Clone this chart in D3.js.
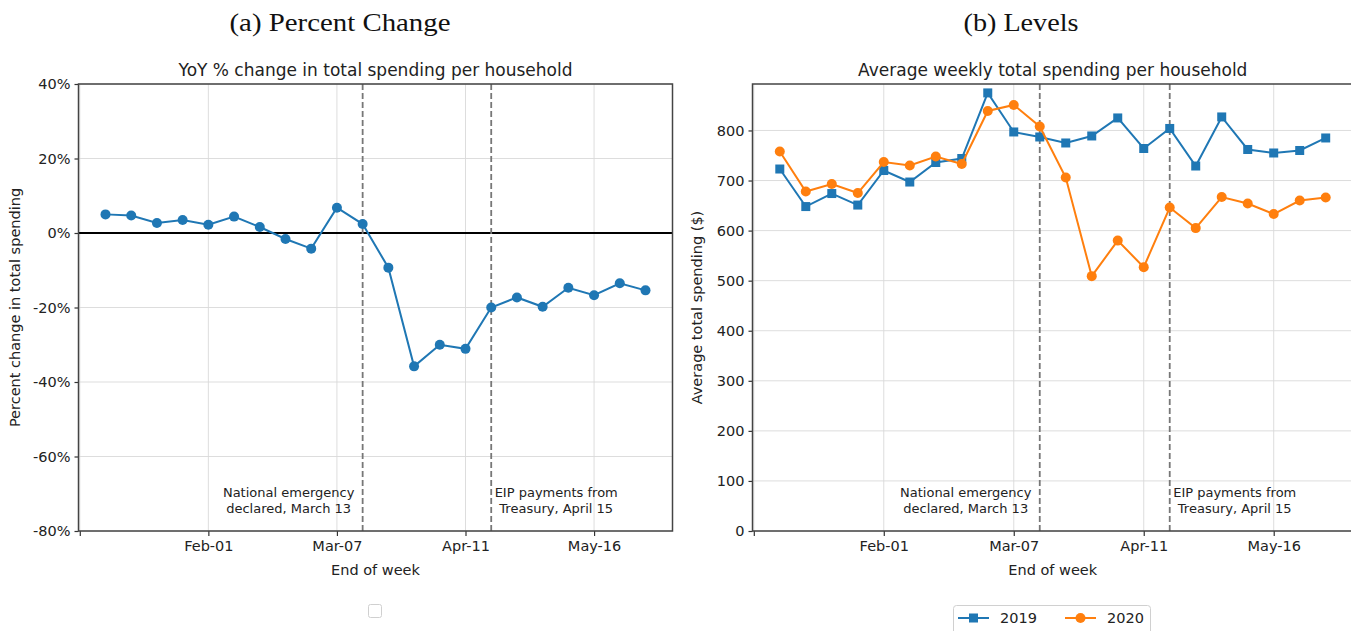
<!DOCTYPE html>
<html><head><meta charset="utf-8">
<script src="https://cdn.jsdelivr.net/npm/d3@7"></script>
<style>
html,body{margin:0;padding:0;background:#fff;overflow:hidden}
text{font-family:"DejaVu Sans",sans-serif;fill:#222}
</style></head>
<body>
<svg id="chart" width="1351" height="631"></svg>
<script>
// ---- data ----
const weekEnds = ["2020-01-04","2020-01-11","2020-01-18","2020-01-25","2020-02-01","2020-02-08","2020-02-15","2020-02-22","2020-02-29","2020-03-07","2020-03-14","2020-03-21","2020-03-28","2020-04-04","2020-04-11","2020-04-18","2020-04-25","2020-05-02","2020-05-09","2020-05-16","2020-05-23","2020-05-30"];
const yoyPct = [5.0, 4.7, 2.7, 3.5, 2.2, 4.4, 1.6, -1.6, -4.2, 6.8, 2.4, -9.3, -35.8, -30.0, -31.1, -20.0, -17.3, -19.8, -14.7, -16.7, -13.5, -15.4];
const spend2019 = [723, 648, 674, 651, 720, 697, 736, 744, 875, 797, 787, 775, 789, 825, 764, 804, 729, 827, 762, 755, 760, 785];
const spend2020 = [758, 678, 693, 675, 737, 730, 748, 733, 839, 851, 808, 706, 509, 580, 527, 646, 605, 667, 654, 633, 660, 666];
const xTickDates = ["2019-12-28","2020-02-01","2020-03-07","2020-04-11","2020-05-16"];
const xTickLabels = ["","Feb-01","Mar-07","Apr-11","May-16"];
const pctTicks = [-80,-60,-40,-20,0,20,40];
const levelTicks = [0,100,200,300,400,500,600,700,800];
const eventDates = ["2020-03-14","2020-04-18"];
const eventLabels = [["National emergency","declared, March 13"],["EIP payments from","Treasury, April 15"]];
const seriesNames = ["2019","2020"];

const C_BLUE = "#1f77b4", C_ORANGE = "#ff7f0e";
const parse = d3.utcParse("%Y-%m-%d");
const dates = weekEnds.map(parse);
const svg = d3.select("#chart");

// x domain with 5% margins like matplotlib
const d0 = dates[0], d1 = dates[dates.length-1];
const span = d1 - d0;
const xDomain = [new Date(+d0 - 0.05*span), new Date(+d1 + 0.05*span)];

const plotTop = 84, plotBottom = 531;

function panel(opts){
  const g = svg.append("g");
  const x = d3.scaleUtc().domain(xDomain).range([opts.left, opts.right]);
  const y = d3.scaleLinear().domain(opts.yDomain).range([plotBottom, plotTop]);
  // grid
  g.append("g").selectAll("line").data(xTickDates.map(parse)).join("line")
    .attr("x1", d=>x(d)).attr("x2", d=>x(d)).attr("y1", plotTop).attr("y2", plotBottom)
    .attr("stroke", "#d9d9d9").attr("stroke-width", 0.9);
  g.append("g").selectAll("line").data(opts.yTicks).join("line")
    .attr("x1", opts.left).attr("x2", opts.right).attr("y1", d=>y(d)).attr("y2", d=>y(d))
    .attr("stroke", "#d9d9d9").attr("stroke-width", 0.9);
  // axes
  const xAxis = d3.axisBottom(x).tickValues(xTickDates.map(parse))
    .tickFormat((d,i)=>xTickLabels[i]).tickSize(5).tickPadding(5);
  const gx = g.append("g").attr("transform", `translate(0,${plotBottom})`).call(xAxis);
  gx.select(".domain").remove();
  gx.selectAll("line").attr("stroke","#333").attr("stroke-width",1.2);
  gx.selectAll("text").style("font-size","14.5px").style("fill","#222").attr("font-family","DejaVu Sans");
  const yAxis = d3.axisLeft(y).tickValues(opts.yTicks).tickFormat(opts.yFmt).tickSize(4).tickPadding(4);
  const gy = g.append("g").attr("transform", `translate(${opts.left},0)`).call(yAxis);
  gy.select(".domain").remove();
  gy.selectAll("line").attr("stroke","#333").attr("stroke-width",1.2);
  gy.selectAll("text").style("font-size","14.5px").style("fill","#222").attr("font-family","DejaVu Sans");
  // zero line
  if (opts.zero) {
    g.append("line").attr("x1", opts.left).attr("x2", opts.right)
      .attr("y1", y(0)).attr("y2", y(0)).attr("stroke","#000").attr("stroke-width",2);
  }
  // event lines
  eventDates.map(parse).forEach((d,i)=>{
    g.append("line").attr("x1", x(d)).attr("x2", x(d)).attr("y1", plotTop).attr("y2", plotBottom)
      .attr("stroke","#777").attr("stroke-width",1.8).attr("stroke-dasharray","6,3");
    const cx = i===0 ? x(d) - 74 : x(d) + 65;
    const t = g.append("text").attr("text-anchor","middle").style("font-size","13px");
    eventLabels[i].forEach((s,j)=>{
      t.append("tspan").attr("x", cx).attr("y", 497 + j*16).text(s);
    });
  });
  // spines
  g.append("rect").attr("x", opts.left).attr("y", plotTop)
    .attr("width", opts.right-opts.left).attr("height", plotBottom-plotTop)
    .attr("fill","none").attr("stroke","#444").attr("stroke-width",1.5);
  // titles
  g.append("text").attr("x",(opts.left+opts.right)/2).attr("y",76).attr("text-anchor","middle")
    .style("font-size","17px").text(opts.title);
  g.append("text").attr("x",(opts.left+opts.right)/2).attr("y",575).attr("text-anchor","middle")
    .style("font-size","14.5px").text("End of week");
  g.append("text").attr("transform",`translate(${opts.ylabX},${(plotTop+plotBottom)/2}) rotate(-90)`)
    .attr("text-anchor","middle").style("font-size","14.5px").text(opts.ylab);
  svg.append("text").attr("x", opts.headX).attr("y", 31).attr("text-anchor","middle")
    .attr("textLength", opts.headW).attr("lengthAdjust","spacingAndGlyphs")
    .style("font-family","'Liberation Serif',serif").style("font-size","25px").style("fill","#111")
    .text(opts.head);
  return {g, x, y};
}

// ---- Panel (a) ----
const A = panel({left:78.5, right:672.5, yDomain:[-80,40], yTicks:pctTicks,
  yFmt:d=>d+"%", zero:true, title:"YoY % change in total spending per household",
  ylab:"Percent change in total spending", ylabX:20, head:"(a) Percent Change", headX:340, headW:221});
const lineA = d3.line().x((d,i)=>A.x(dates[i])).y(d=>A.y(d));
A.g.append("path").datum(yoyPct).attr("d", lineA).attr("fill","none")
  .attr("stroke", C_BLUE).attr("stroke-width", 2);
A.g.append("g").selectAll("circle").data(yoyPct).join("circle")
  .attr("cx",(d,i)=>A.x(dates[i])).attr("cy",d=>A.y(d)).attr("r",5).attr("fill",C_BLUE);

// empty legend box
svg.append("rect").attr("x",368.5).attr("y",604.5).attr("width",13).attr("height",13).attr("rx",2)
  .attr("fill","#fff").attr("stroke","#d0d0d0").attr("stroke-width",1);

// ---- Panel (b) ----
const B = panel({left:752.5, right:1353, yDomain:[0,892.8], yTicks:levelTicks,
  yFmt:d=>d, zero:false, title:"Average weekly total spending per household",
  ylab:"Average total spending ($)", ylabX:702, head:"(b) Levels", headX:1021, headW:115});
const lineB = d3.line().x((d,i)=>B.x(dates[i])).y(d=>B.y(d));
B.g.append("path").datum(spend2019).attr("d", lineB).attr("fill","none")
  .attr("stroke", C_BLUE).attr("stroke-width", 2);
B.g.append("g").selectAll("rect").data(spend2019).join("rect")
  .attr("x",(d,i)=>B.x(dates[i])-4.5).attr("y",d=>B.y(d)-4.5).attr("width",9).attr("height",9).attr("fill",C_BLUE);
B.g.append("path").datum(spend2020).attr("d", lineB).attr("fill","none")
  .attr("stroke", C_ORANGE).attr("stroke-width", 2);
B.g.append("g").selectAll("circle").data(spend2020).join("circle")
  .attr("cx",(d,i)=>B.x(dates[i])).attr("cy",d=>B.y(d)).attr("r",5).attr("fill",C_ORANGE);

// legend
const lg = svg.append("g");
lg.append("rect").attr("x",953.5).attr("y",605.5).attr("width",197).attr("height",32).attr("rx",3)
  .attr("fill","#fff").attr("stroke","#d0d0d0");
[[C_BLUE,"square",958],[C_ORANGE,"circle",1065]].forEach(([c,shape,lx],i)=>{
  lg.append("line").attr("x1",lx).attr("x2",lx+31).attr("y1",618).attr("y2",618).attr("stroke",c).attr("stroke-width",2);
  if(shape==="square") lg.append("rect").attr("x",lx+15.5-4.5).attr("y",613.5).attr("width",9).attr("height",9).attr("fill",c);
  else lg.append("circle").attr("cx",lx+15.5).attr("cy",618).attr("r",5).attr("fill",c);
  lg.append("text").attr("x",lx+42).attr("y",623).style("font-size","14.5px").text(seriesNames[i]);
});
</script>
</body></html>
